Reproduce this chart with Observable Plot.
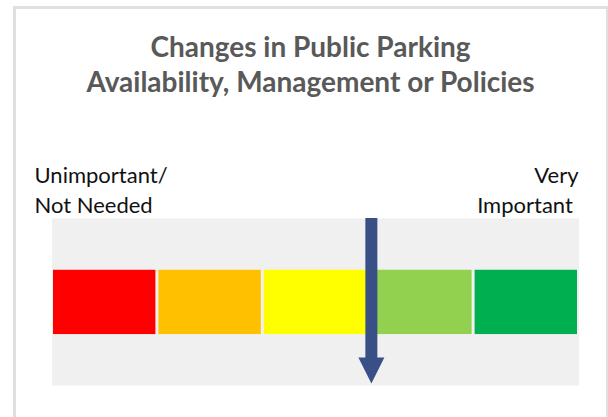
<!DOCTYPE html>
<html>
<head>
<meta charset="utf-8">
<script src="https://cdn.jsdelivr.net/npm/d3@7"></script>
<script src="https://cdn.jsdelivr.net/npm/@observablehq/plot@0.6"></script>
<style>
  html, body { margin: 0; padding: 0; background: #fff; }
  #wrap { position: relative; width: 608px; height: 417px; overflow: hidden; }
  #frame { position: absolute; left: 13px; top: 6px; width: 590px; height: 430px;
           border: 3px solid #e0e0e0; border-bottom: none; pointer-events: none; }
  #chart { position: absolute; left: 0; top: 0; }
</style>
</head>
<body>
<div id="wrap"><div id="frame"></div><div id="chart"></div></div>
<script>
// ---- data ----
const titleLines = ["Changes in Public Parking", "Availability, Management or Policies"];
const leftLabel = ["Unimportant/", "Not Needed"];
const rightLabel = ["Very", "Important\u00A0"];
const levels = [1, 2, 3, 4, 5];
const levelNames = ["Unimportant", "Low", "Neutral", "Important", "Very Important"];
const score = [3.03];

// ---- styles ----
const levelColors = ["#FF0000", "#FFC000", "#FFFF00", "#92D050", "#00B050"];
const arrowColor = "#385085";
const font = "Lato, 'Open Sans', sans-serif";

const downTriangle = {
  draw(context, size) {
    const r = Math.sqrt(size / Math.PI);
    context.moveTo(-r, -r);
    context.lineTo(r, -r);
    context.lineTo(0, r);
    context.closePath();
  }
};

const chart = Plot.plot({
  width: 608,
  height: 417,
  marginTop: 218,
  marginBottom: 32,
  marginLeft: 51.5,
  marginRight: 29.5,
  x: {domain: [0, 5], axis: null},
  y: {domain: [0, 1], axis: null},
  color: {domain: levels, range: levelColors},
  style: {background: "transparent", fontFamily: font},
  marks: [
    Plot.frame({fill: "#F0F0F0", stroke: null}),
    Plot.rect(levels, {
      x1: d => d - 1, x2: d => d, y1: 0.305, y2: 0.69,
      fill: d => d, insetLeft: 1.5, insetRight: 1.5,
      title: (d, i) => levelNames[i]
    }),
    Plot.ruleX(score, {x: d => d, y1: 1, y2: 0, stroke: arrowColor, strokeWidth: 12, insetBottom: 27}),
    Plot.dot(score, {x: d => d, y: 0, dy: -15, r: 13, symbol: downTriangle, fill: arrowColor, stroke: "none"}),
    Plot.text([titleLines.join("\n")], {
      frameAnchor: "top", lineAnchor: "bottom", textAnchor: "middle",
      dx: -5, dy: -127, fontSize: 28, fontWeight: "bold", fill: "#595959", lineHeight: 1.25
    }),
    Plot.text([leftLabel.join("\n")], {
      frameAnchor: "top-left", lineAnchor: "bottom", textAnchor: "start",
      dx: -17.5, dy: -6, fontSize: 22, fill: "#111", lineHeight: 1.36
    }),
    Plot.text([rightLabel.join("\n")], {
      frameAnchor: "top-right", lineAnchor: "bottom", textAnchor: "end",
      dx: -0.5, dy: -6, fontSize: 22, fill: "#111", lineHeight: 1.36
    })
  ]
});
document.getElementById("chart").appendChild(chart);
</script>
</body>
</html>
